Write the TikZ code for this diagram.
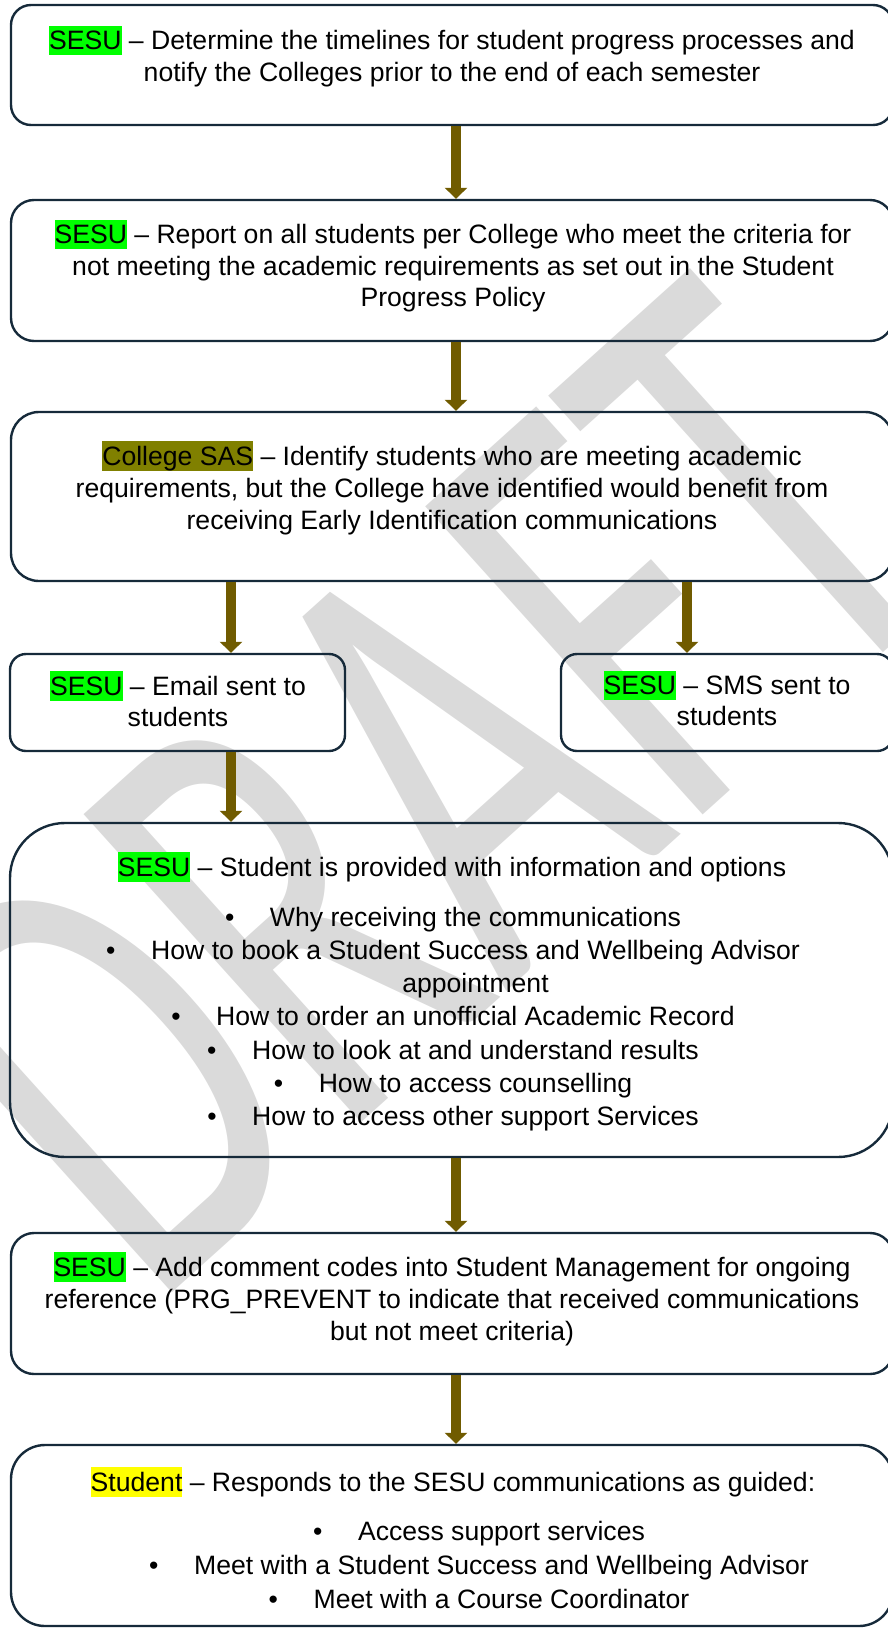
\documentclass[tikz,border=0pt]{standalone}
\usepackage{fontspec}
\usepackage{graphicx}
\setmainfont{Liberation Sans}
\newfontfamily\wmfont{Carlito}
\usetikzlibrary{arrows.meta}

\definecolor{boxline}{RGB}{22,42,58}
\definecolor{flow}{RGB}{112,91,0}
\definecolor{hlgreen}{RGB}{0,255,0}
\definecolor{hlolive}{RGB}{128,128,0}
\definecolor{hlyellow}{RGB}{255,255,0}
\definecolor{wmgrey}{RGB}{218,218,218}

% highlighted actor name, highlight spans ascent to descent
\newcommand\hlword[2]{{\setlength\fboxsep{0pt}\colorbox{#1}{\rule[-0.212em]{0pt}{1.117em}#2}}}
% strut that fixes the height of a first line
\newcommand\topstrut{\rule{0pt}{0.905em}}
% bullet with its hanging gap
\newcommand\bul{\makebox[45pt][l]{•}}

\tikzset{
  box/.style={draw=boxline, line width=2.4pt, rectangle, inner sep=0pt},
  txt/.style={inner sep=0pt, align=center, anchor=north,
              font=\fontsize{26.6pt}{#1}\selectfont},
  txt/.default={31.8pt},
  flowarrow/.style={draw=flow, line width=10pt,
                    -{Triangle[width=22pt,length=11pt]}},
}

\begin{document}
\begin{tikzpicture}[x=1pt,y=-1pt]
\useasboundingbox (0,0) rectangle (888,1629);

% watermark behind the chart
\begin{scope}[shift={(423,788)}, rotate=42]
  \node[inner sep=0pt, text=wmgrey, transform shape] (wm) at (0,0)
    {\resizebox{1100pt}{414pt}{\wmfont DRAFT}};
\end{scope}

% boxes
\node[box, rounded corners=20pt, minimum width=882pt, minimum height=120pt] (b1) at (452,65) {};
\node[box, rounded corners=23pt, minimum width=882pt, minimum height=141pt] (b2) at (452,270.5) {};
\node[box, rounded corners=28pt, minimum width=882pt, minimum height=169pt] (b3) at (452,496.5) {};
\node[box, rounded corners=16pt, minimum width=335pt, minimum height=97pt] (email) at (177.5,702.5) {};
\node[box, rounded corners=16pt, minimum width=332pt, minimum height=97pt] (sms) at (727,702.5) {};
\node[box, rounded corners=55pt, minimum width=883pt, minimum height=334pt] (b5) at (451.5,990) {};
\node[box, rounded corners=23pt, minimum width=882pt, minimum height=141pt] (b6) at (452,1303.5) {};
\node[box, rounded corners=34pt, minimum width=882pt, minimum height=181pt] (b7) at (452,1535.5) {};

% texts
\node[txt=31.5pt] (t1) at (452,25.4)
  {\topstrut\hlword{hlgreen}{SESU} – Determine the timelines for student progress processes and\\
   notify the Colleges prior to the end of each semester};
\node[txt=31.6pt] (t2) at (453,219.4)
  {\topstrut\hlword{hlgreen}{SESU} – Report on all students per College who meet the criteria for\\
   not meeting the academic requirements as set out in the Student\\
   Progress Policy};
\node[txt=32pt] (t3) at (452,441)
  {\topstrut\hlword{hlolive}{College SAS} – Identify students who are meeting academic\\
   requirements, but the College have identified would benefit from\\
   receiving Early Identification communications};
\node[txt=31pt] (temail) at (178,671)
  {\topstrut\hlword{hlgreen}{SESU} – Email sent to\\ students};
\node[txt=31pt] (tsms) at (727,670.4)
  {\topstrut\hlword{hlgreen}{SESU} – SMS sent to\\ students};
\node[txt] (t5) at (452,852)
  {\topstrut\hlword{hlgreen}{SESU} – Student is provided with information and options};
\node[txt=33.2pt] (t5list) at (453,902)
  {\topstrut\bul Why receiving the communications\\
   \bul How to book a Student Success and Wellbeing Advisor\\
   \hspace*{45pt}appointment\\
   \bul How to order an unofficial Academic Record\\
   \bul How to look at and understand results\\
   \bul How to access counselling\\
   \bul How to access other support Services};
\node[txt=32pt] (t6) at (452,1252)
  {\topstrut\hlword{hlgreen}{SESU} – Add comment codes into Student Management for ongoing\\
   reference (PRG\_PREVENT to indicate that received communications\\
   but not meet criteria)};
\node[txt] (t7) at (453,1467)
  {\topstrut\hlword{hlyellow}{Student} – Responds to the SESU communications as guided:};
\node[txt=34pt] (t7list) at (479,1516)
  {\topstrut\bul Access support services\\
   \bul Meet with a Student Success and Wellbeing Advisor\\
   \bul Meet with a Course Coordinator};

% connector columns
\coordinate (cx) at (456,0);
\coordinate (lx) at (231,0);
\coordinate (rx) at (687,0);

% connectors
\draw[flowarrow] (b1.south -| cx) -- (b2.north -| cx);
\draw[flowarrow] (b2.south -| cx) -- (b3.north -| cx);
\draw[flowarrow] (b3.south -| lx) -- (email.north -| lx);
\draw[flowarrow] (b3.south -| rx) -- (sms.north -| rx);
\draw[flowarrow] (email.south -| lx) -- (b5.north -| lx);
\draw[flowarrow] (b5.south -| cx) -- (b6.north -| cx);
\draw[flowarrow] (b6.south -| cx) -- (b7.north -| cx);
\end{tikzpicture}
\end{document}
